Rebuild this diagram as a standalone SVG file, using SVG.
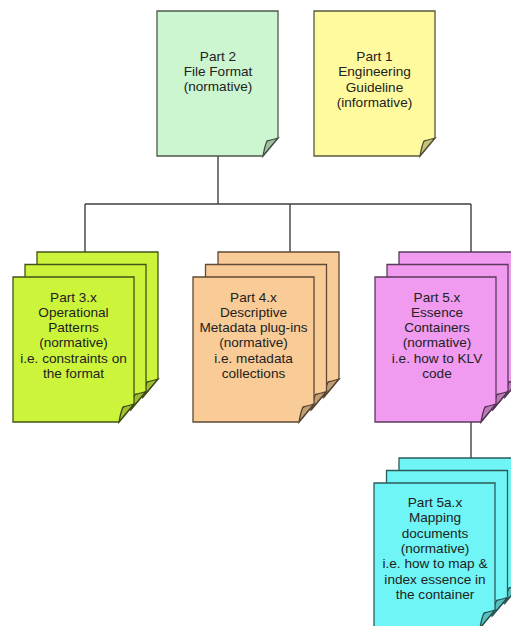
<svg xmlns="http://www.w3.org/2000/svg" xmlns:xlink="http://www.w3.org/1999/xlink" width="511" height="626" viewBox="0 0 511 626">
  <style>
    .lbl { font-family: "Liberation Sans", Arial, sans-serif; font-size: 13.6px; fill: #222; stroke: none; text-anchor: middle; }
    .wire { fill: none; stroke: #3f3f3f; stroke-width: 1.4; }
    .sheet { stroke-width: 1.3; stroke-linejoin: miter; }
    .green { fill: #ccf6cf; stroke: #4e5a4e; }
    .yellow { fill: #fffa9e; stroke: #5a5840; }
    .lime { fill: #ccf43a; stroke: #44521a; }
    .peach { fill: #f9cb96; stroke: #5e4a36; }
    .pink { fill: #f09af0; stroke: #5a3a5a; }
    .cyan { fill: #6ff5f5; stroke: #2f5a5a; }
  </style>
  <defs>
    <!-- one page with a folded bottom-right corner, 121 x 145 -->
    <g id="sheet">
      <path d="M0,0 H121 V127 L106,145 H0 Z"/>
      <path d="M106,145 C107,139 108,134 110,130 C114,129 118,128 121,127 Z"/>
      <path d="M106,145 C107,139 108,134 110,130 C114,129 118,128 121,127 Z" fill="#000" fill-opacity="0.22" stroke="none"/>
    </g>
  </defs>

  <rect width="511" height="626" fill="#fff"/>

  <!-- connectors -->
  <g id="connectors">
    <path class="wire" d="M218,156 V204 M85,204 H471 M85,204 V252 M290,204 V252 M471,204 V252"/>
    <path class="wire" d="M471,421 V458"/>
  </g>

  <g id="part2" class="sheet green">
    <use xlink:href="#sheet" transform="translate(157,11)"/>
    <text class="lbl" x="218" y="61">Part 2</text>
    <text class="lbl" x="218" y="76">File Format</text>
    <text class="lbl" x="218" y="91">(normative)</text>
  </g>

  <g id="part1" class="sheet yellow">
    <use xlink:href="#sheet" transform="translate(314,11)"/>
    <text class="lbl" x="374.5" y="61">Part 1</text>
    <text class="lbl" x="374.5" y="76">Engineering</text>
    <text class="lbl" x="374.5" y="91.5">Guideline</text>
    <text class="lbl" x="374.5" y="106.5">(informative)</text>
  </g>

  <g id="part3" class="sheet lime">
    <use xlink:href="#sheet" transform="translate(37,252)"/>
    <use xlink:href="#sheet" transform="translate(25,264.5)"/>
    <use xlink:href="#sheet" transform="translate(13,277)"/>
    <text class="lbl" x="73.5" y="301.5">Part 3.x</text>
    <text class="lbl" x="73.5" y="316.8">Operational</text>
    <text class="lbl" x="73.5" y="332.1">Patterns</text>
    <text class="lbl" x="73.5" y="347.4">(normative)</text>
    <text class="lbl" x="73.5" y="362.7">i.e. constraints on</text>
    <text class="lbl" x="73.5" y="378">the format</text>
  </g>

  <g id="part4" class="sheet peach">
    <use xlink:href="#sheet" transform="translate(218,252)"/>
    <use xlink:href="#sheet" transform="translate(205.5,264.5)"/>
    <use xlink:href="#sheet" transform="translate(193,277)"/>
    <text class="lbl" x="253.5" y="301.5">Part 4.x</text>
    <text class="lbl" x="253.5" y="316.8">Descriptive</text>
    <text class="lbl" x="253.5" y="332.1">Metadata plug-ins</text>
    <text class="lbl" x="253.5" y="347.4">(normative)</text>
    <text class="lbl" x="253.5" y="362.7">i.e. metadata</text>
    <text class="lbl" x="253.5" y="378">collections</text>
  </g>

  <g id="part5" class="sheet pink">
    <use xlink:href="#sheet" transform="translate(399,252)"/>
    <use xlink:href="#sheet" transform="translate(387,264.5)"/>
    <use xlink:href="#sheet" transform="translate(375,277)"/>
    <text class="lbl" x="437" y="301.5">Part 5.x</text>
    <text class="lbl" x="437" y="316.8">Essence</text>
    <text class="lbl" x="437" y="332.1">Containers</text>
    <text class="lbl" x="437" y="347.4">(normative)</text>
    <text class="lbl" x="437" y="362.7">i.e. how to KLV</text>
    <text class="lbl" x="437" y="378">code</text>
  </g>

  <g id="part5a" class="sheet cyan">
    <use xlink:href="#sheet" transform="translate(399,458)"/>
    <use xlink:href="#sheet" transform="translate(386.5,470.5)"/>
    <use xlink:href="#sheet" transform="translate(374,483)"/>
    <text class="lbl" x="435" y="507">Part 5a.x</text>
    <text class="lbl" x="435" y="522.3">Mapping</text>
    <text class="lbl" x="435" y="537.6">documents</text>
    <text class="lbl" x="435" y="552.9">(normative)</text>
    <text class="lbl" x="435" y="568.2">i.e. how to map &amp;</text>
    <text class="lbl" x="435" y="583.5">index essence in</text>
    <text class="lbl" x="435" y="598.8">the container</text>
  </g>
</svg>
